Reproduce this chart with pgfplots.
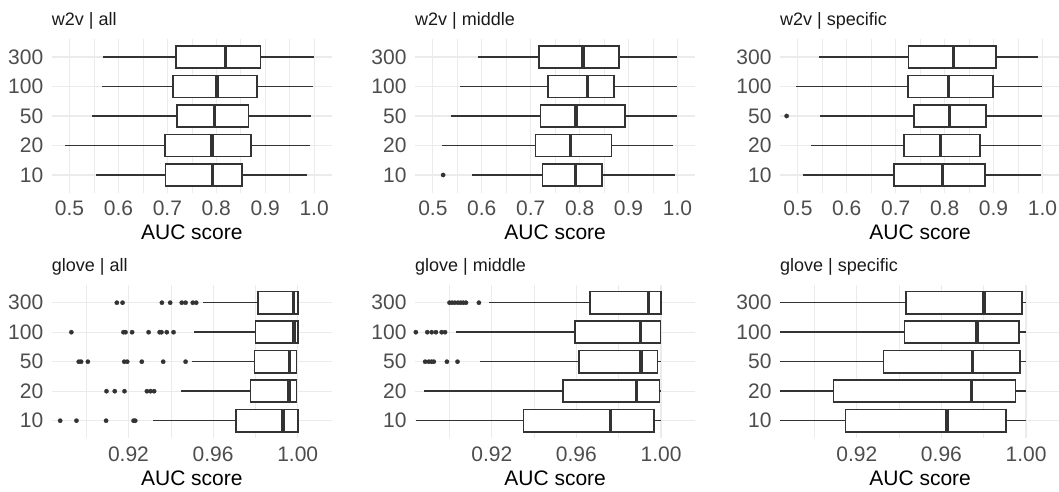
\documentclass[border=0pt]{standalone}
\usepackage{pgfplots}
\pgfplotsset{compat=1.18}
\usepgfplotslibrary{statistics}
\usepackage{fontspec}
\setmainfont{Liberation Sans}

\definecolor{boxline}{HTML}{333333}
\definecolor{gridgrey}{HTML}{EBEBEB}
\definecolor{ticktext}{HTML}{4D4D4D}
\definecolor{striptext}{HTML}{1A1A1A}

\newcommand{\ticksize}{\fontsize{21pt}{24pt}\selectfont}
\newcommand{\stripsize}{\fontsize{18pt}{21pt}\selectfont}

\pgfplotsset{
  facet/.style={
    scale only axis, width=280.3pt, height=153.4pt,
    ymin=0.4, ymax=5.6,
    ytick={1,2,3,4,5}, yticklabels={10,20,50,100,300},
    axis line style={draw=none},
    tick style={draw=none},
    xmajorgrids, xminorgrids, ymajorgrids,
    major grid style={line width=1.1pt, color=gridgrey},
    minor grid style={line width=0.55pt, color=gridgrey},
    tick label style={font=\ticksize, text=ticktext, inner sep=0pt},
    xticklabel style={anchor=north, yshift=-8.3pt},
    yticklabel style={anchor=east, xshift=-8.3pt},
    xlabel={AUC score},
    every axis x label/.style={at={(axis description cs:0.5,0)}, anchor=base,
      yshift=-47.3pt, inner sep=0pt, font=\ticksize, text=black},
    every axis title/.style={at={(axis description cs:0,1)}, anchor=base west,
      yshift=13.6pt, inner sep=0pt, font=\stripsize, text=striptext},
  },
  w2vrow/.style={
    xmin=0.4635, xmax=1.0365,
    xtick={0.5,0.6,0.7,0.8,0.9,1.0},
    xticklabels={0.5,0.6,0.7,0.8,0.9,1.0},
    minor xtick={0.55,0.65,0.75,0.85,0.95},
  },
  gloverow/.style={
    xmin=0.8837, xmax=1.0162,
    xtick={0.92,0.96,1.0},
    xticklabels={0.92,0.96,1.00},
    minor xtick={0.90,0.94,0.98},
  },
  bx/.style={
    draw=boxline, fill=white, line width=1.6pt,
    mark=*, mark size=2.2pt,
    mark options={draw=boxline, fill=boxline, line width=0.2pt},
    boxplot/box extend=0.75,
    boxplot/whisker extend=0,
    boxplot/every median/.style={line width=3.4pt},
  },
}

\begin{document}
\begin{tikzpicture}
\useasboundingbox (0,0) rectangle (1059pt,492pt);

% ---------------- w2v | all
\begin{axis}[facet, w2vrow, at={(51.7pt,299.3pt)}, anchor=south west, title={w2v | all}]
\addplot[bx, boxplot prepared={draw position=1, lower whisker=0.554, lower quartile=0.696, median=0.792, upper quartile=0.852, upper whisker=0.986}] coordinates {};
\addplot[bx, boxplot prepared={draw position=2, lower whisker=0.490, lower quartile=0.695, median=0.791, upper quartile=0.871, upper whisker=0.991}] coordinates {};
\addplot[bx, boxplot prepared={draw position=3, lower whisker=0.546, lower quartile=0.720, median=0.796, upper quartile=0.866, upper whisker=0.994}] coordinates {};
\addplot[bx, boxplot prepared={draw position=4, lower whisker=0.567, lower quartile=0.712, median=0.801, upper quartile=0.883, upper whisker=0.997}] coordinates {};
\addplot[bx, boxplot prepared={draw position=5, lower whisker=0.568, lower quartile=0.717, median=0.819, upper quartile=0.890, upper whisker=0.999}] coordinates {};
\end{axis}

% ---------------- w2v | middle
\begin{axis}[facet, w2vrow, at={(415pt,299.3pt)}, anchor=south west, title={w2v | middle}]
\addplot[bx, boxplot prepared={draw position=1, lower whisker=0.579, lower quartile=0.724, median=0.792, upper quartile=0.846, upper whisker=0.996}] coordinates {(0,0.521)};
\addplot[bx, boxplot prepared={draw position=2, lower whisker=0.518, lower quartile=0.710, median=0.781, upper quartile=0.865, upper whisker=0.990}] coordinates {};
\addplot[bx, boxplot prepared={draw position=3, lower whisker=0.538, lower quartile=0.720, median=0.793, upper quartile=0.893, upper whisker=1.000}] coordinates {};
\addplot[bx, boxplot prepared={draw position=4, lower whisker=0.556, lower quartile=0.735, median=0.816, upper quartile=0.870, upper whisker=1.000}] coordinates {};
\addplot[bx, boxplot prepared={draw position=5, lower whisker=0.592, lower quartile=0.717, median=0.807, upper quartile=0.880, upper whisker=1.000}] coordinates {};
\end{axis}

% ---------------- w2v | specific
\begin{axis}[facet, w2vrow, at={(780pt,299.3pt)}, anchor=south west, title={w2v | specific}]
\addplot[bx, boxplot prepared={draw position=1, lower whisker=0.511, lower quartile=0.697, median=0.796, upper quartile=0.882, upper whisker=0.997}] coordinates {};
\addplot[bx, boxplot prepared={draw position=2, lower whisker=0.527, lower quartile=0.717, median=0.792, upper quartile=0.872, upper whisker=0.996}] coordinates {};
\addplot[bx, boxplot prepared={draw position=3, lower whisker=0.546, lower quartile=0.737, median=0.810, upper quartile=0.884, upper whisker=0.999}] coordinates {(0,0.477)};
\addplot[bx, boxplot prepared={draw position=4, lower whisker=0.496, lower quartile=0.725, median=0.808, upper quartile=0.899, upper whisker=0.999}] coordinates {};
\addplot[bx, boxplot prepared={draw position=5, lower whisker=0.544, lower quartile=0.726, median=0.818, upper quartile=0.905, upper whisker=0.991}] coordinates {};
\end{axis}

% ---------------- glove | all
\begin{axis}[facet, gloverow, at={(51.7pt,53.6pt)}, anchor=south west, title={glove | all}]
\addplot[bx, boxplot prepared={draw position=1, lower whisker=0.9315, lower quartile=0.9707, median=0.9931, upper quartile=1.0, upper whisker=1.0}]
  coordinates {(0,0.8877) (0,0.8954) (0,0.9094) (0,0.9224) (0,0.9232)};
\addplot[bx, boxplot prepared={draw position=2, lower whisker=0.9449, lower quartile=0.9776, median=0.9958, upper quartile=0.9995, upper whisker=0.9995}]
  coordinates {(0,0.9096) (0,0.9135) (0,0.9181) (0,0.9287) (0,0.9304) (0,0.9321)};
\addplot[bx, boxplot prepared={draw position=3, lower whisker=0.9498, lower quartile=0.9795, median=0.9961, upper quartile=0.9995, upper whisker=0.9995}]
  coordinates {(0,0.8965) (0,0.8976) (0,0.9008) (0,0.9180) (0,0.9194) (0,0.9263) (0,0.9364) (0,0.9470)};
\addplot[bx, boxplot prepared={draw position=4, lower whisker=0.9509, lower quartile=0.9800, median=0.9983, upper quartile=1.0, upper whisker=1.0}]
  coordinates {(0,0.8930) (0,0.9176) (0,0.9186) (0,0.9217) (0,0.9295) (0,0.9347) (0,0.9356) (0,0.9381) (0,0.9413)};
\addplot[bx, boxplot prepared={draw position=5, lower whisker=0.9550, lower quartile=0.9811, median=0.9979, upper quartile=1.0, upper whisker=1.0}]
  coordinates {(0,0.9145) (0,0.9172) (0,0.9358) (0,0.9397) (0,0.9452) (0,0.9470) (0,0.9504) (0,0.9520)};
\end{axis}

% ---------------- glove | middle
\begin{axis}[facet, gloverow, at={(415pt,53.6pt)}, anchor=south west, title={glove | middle}]
\addplot[bx, boxplot prepared={draw position=1, lower whisker=0.8842, lower quartile=0.9349, median=0.9761, upper quartile=0.9967, upper whisker=1.0}] coordinates {};
\addplot[bx, boxplot prepared={draw position=2, lower whisker=0.8881, lower quartile=0.9536, median=0.9884, upper quartile=0.9992, upper whisker=1.0}] coordinates {};
\addplot[bx, boxplot prepared={draw position=3, lower whisker=0.9146, lower quartile=0.9613, median=0.9906, upper quartile=0.9984, upper whisker=1.0}]
  coordinates {(0,0.8885) (0,0.8902) (0,0.8915) (0,0.8926) (0,0.8988) (0,0.9038)};
\addplot[bx, boxplot prepared={draw position=4, lower whisker=0.9030, lower quartile=0.9593, median=0.9902, upper quartile=0.9997, upper whisker=1.0}]
  coordinates {(0,0.8841) (0,0.8895) (0,0.8916) (0,0.8936) (0,0.8963) (0,0.8979)};
\addplot[bx, boxplot prepared={draw position=5, lower whisker=0.9189, lower quartile=0.9665, median=0.9940, upper quartile=1.0, upper whisker=1.0}]
  coordinates {(0,0.9000) (0,0.9012) (0,0.9025) (0,0.9040) (0,0.9053) (0,0.9065) (0,0.9078) (0,0.9139)};
\end{axis}

% ---------------- glove | specific
\begin{axis}[facet, gloverow, at={(780pt,53.6pt)}, anchor=south west, title={glove | specific}]
\addplot[bx, boxplot prepared={draw position=1, lower whisker=0.880, lower quartile=0.9146, median=0.9626, upper quartile=0.9906, upper whisker=1.0}] coordinates {};
\addplot[bx, boxplot prepared={draw position=2, lower whisker=0.880, lower quartile=0.9089, median=0.9741, upper quartile=0.9950, upper whisker=1.0}] coordinates {};
\addplot[bx, boxplot prepared={draw position=3, lower whisker=0.880, lower quartile=0.9327, median=0.9748, upper quartile=0.9972, upper whisker=1.0}] coordinates {};
\addplot[bx, boxplot prepared={draw position=4, lower whisker=0.880, lower quartile=0.9425, median=0.9769, upper quartile=0.9966, upper whisker=1.0}] coordinates {};
\addplot[bx, boxplot prepared={draw position=5, lower whisker=0.880, lower quartile=0.9433, median=0.9802, upper quartile=0.9980, upper whisker=1.0}] coordinates {};
\end{axis}
\end{tikzpicture}
\end{document}
